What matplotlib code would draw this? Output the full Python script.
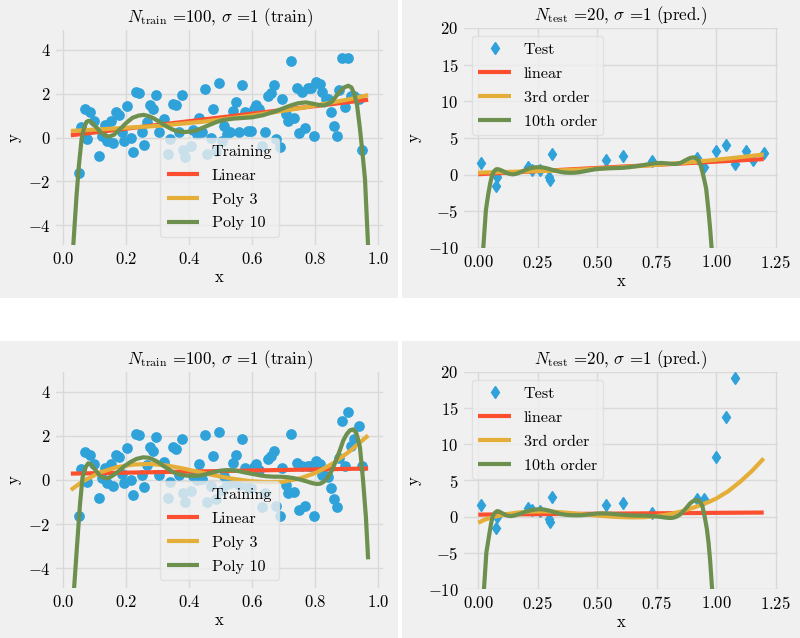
import numpy as np
import matplotlib.pyplot as plt
from matplotlib.patches import Rectangle

# training inputs (same x in both rows)
train_x = [0.050, 0.056, 0.069, 0.085, 0.076, 0.096, 0.113, 0.122, 0.132, 0.140,
           0.150, 0.159, 0.166, 0.178, 0.186, 0.194, 0.203, 0.215, 0.222, 0.230,
           0.241, 0.249, 0.257, 0.267, 0.275, 0.284, 0.294, 0.305, 0.321, 0.331,
           0.340, 0.348, 0.358, 0.367, 0.376, 0.381, 0.386, 0.405, 0.413, 0.423,
           0.432, 0.441, 0.450, 0.457, 0.468, 0.476, 0.485, 0.494, 0.503, 0.511,
           0.521, 0.529, 0.540, 0.548, 0.558, 0.568, 0.577, 0.585, 0.596, 0.605,
           0.612, 0.622, 0.632, 0.640, 0.649, 0.658, 0.669, 0.677, 0.688, 0.695,
           0.706, 0.714, 0.723, 0.732, 0.741, 0.749, 0.759, 0.767, 0.778, 0.788,
           0.796, 0.804, 0.815, 0.823, 0.833, 0.841, 0.850, 0.859, 0.868, 0.876,
           0.884, 0.896, 0.905, 0.912, 0.924, 0.939, 0.950]
train_y_top = [-1.64, 0.48, 1.32, 1.17, -0.08, 0.73, -0.83, 0.08, 0.56, -0.15,
               0.76, -0.26, 1.17, 1.03, 0.24, -0.15, 1.44, 0.00, -0.65, 2.09,
               2.02, 0.26, -0.33, 0.71, 1.50, 1.29, 1.94, 0.27, 0.86, -0.76,
               -0.05, 1.52, 1.47, 0.26, 1.94, -0.56, -0.91, -0.41, 0.33, 0.18,
               0.91, 0.23, 2.20, -0.77, -0.03, 1.32, -0.60, 2.47, -0.18, 0.53,
               0.15, 0.23, 1.21, 1.64, 0.27, 2.39, 1.14, 0.30, 0.30, 1.29,
               1.47, 1.29, -0.38, 0.26, 1.89, 2.05, 2.38, -0.05, -0.42, 1.77,
               1.06, 0.74, 3.48, 0.91, 2.24, 0.20, 2.08, 0.45, 2.27, 2.27,
               0.05, 2.53, 2.42, 2.08, 1.77, 1.74, 1.14, 0.53, 0.05, 2.15,
               3.64, 1.41, 3.64, 1.89, 1.89, 1.74, -0.58]
train_y_bot = [-1.65, 0.50, 1.29, 1.15, -0.10, 0.73, -0.83, 0.08, 0.55, -0.15,
               0.73, -0.26, 1.15, 1.03, 0.27, -0.15, 1.46, 0.00, -0.67, 2.09,
               2.02, 0.24, -0.30, 0.70, 1.49, 1.30, 1.94, 0.24, 0.83, -0.82,
               -0.10, 1.49, 1.41, 0.24, 1.87, -0.59, -1.02, -0.52, 0.20, 0.02,
               0.73, 0.05, 2.02, -1.02, -0.26, 1.08, -0.88, 2.17, -0.45, 0.20,
               -0.20, -0.15, 0.76, 1.15, -0.23, 1.84, 0.55, -0.31, -0.35, 0.58,
               0.73, 0.45, -1.22, -0.60, 0.96, 1.08, 1.30, -1.17, -1.65, 0.55,
               -0.21, -0.60, 2.09, -0.56, 0.76, -1.35, 0.62, -1.17, 0.65, 0.65,
               -1.65, 0.85, 0.73, 0.24, 0.17, 0.12, -0.36, -0.86, -1.24, 0.99,
               2.67, 0.65, 3.08, 1.56, 1.87, 2.47, 0.65]

# test points
test_x = [0.011, 0.074, 0.077, 0.210, 0.224, 0.259, 0.298, 0.302, 0.312, 0.536,
          0.609, 0.731, 0.921, 0.949, 1.001, 1.040, 1.081, 1.127, 1.155, 1.200]
test_y_top = [1.53, -1.53, -0.30, 1.07, 0.62, 0.62, -0.30, -0.70, 2.76, 1.98,
              2.57, 1.89, 2.30, 1.07, 3.20, 4.03, 1.40, 3.26, 1.98, 3.00]
test_y_bot = [1.60, -1.52, -0.10, 1.24, 0.88, 0.80, -0.36, -0.69, 2.76, 1.60,
              1.84, 0.55, 2.40, 2.40, 8.28, 13.75, 19.20, 25.0, 28.5, 33.0]

# fitted models
fit_span = (0.024, 0.968)   # range of the training inputs

lin_x = [0.0, 0.024, 0.968, 1.2]
lin_y_top = [0.06, 0.10, 1.72, 2.12]
lin_y_bot = [0.27, 0.29, 0.52, 0.57]

cub_x_top = [0.0, 0.024, 0.15, 0.30, 0.45, 0.60, 0.75, 0.90, 0.968, 1.05, 1.2]
cub_y_top = [0.28, 0.30, 0.40, 0.53, 0.73, 1.00, 1.33, 1.72, 1.93, 2.20, 2.75]

cub_x_bot = [0.0, 0.024, 0.063, 0.116, 0.169, 0.222, 0.275, 0.328, 0.381, 0.434,
             0.487, 0.540, 0.592, 0.645, 0.698, 0.751, 0.803, 0.856, 0.909, 0.968,
             1.0, 1.05, 1.10, 1.15, 1.2]
cub_y_bot = [-0.85, -0.45, -0.05, 0.34, 0.58, 0.70, 0.73, 0.66, 0.52, 0.35,
             0.19, 0.05, -0.05, -0.10, -0.08, 0.07, 0.33, 0.75, 1.30, 2.02,
             2.50, 3.50, 4.80, 6.30, 8.05]

p10_x_top = [0.010, 0.021, 0.024, 0.032, 0.042, 0.050, 0.058, 0.066, 0.074, 0.081,
             0.090, 0.106, 0.120, 0.132, 0.145, 0.160, 0.180, 0.201, 0.220, 0.240,
             0.255, 0.270, 0.286, 0.300, 0.317, 0.335, 0.349, 0.365, 0.385, 0.407,
             0.425, 0.444, 0.465, 0.487, 0.510, 0.540, 0.570, 0.600, 0.635, 0.677,
             0.720, 0.745, 0.770, 0.794, 0.812, 0.830, 0.852, 0.870, 0.890, 0.905,
             0.915, 0.925, 0.933, 0.942, 0.950, 0.958, 0.968, 0.975, 0.982, 0.990]
p10_y_top = [-18.0, -10.0, -8.6, -4.85, -2.65, -1.20, -0.08, 0.45, 0.72, 0.76,
             0.68, 0.45, 0.22, 0.10, 0.04, 0.12, 0.38, 0.68, 0.90, 1.00,
             1.03, 0.98, 0.88, 0.76, 0.60, 0.45, 0.35, 0.28, 0.25, 0.27,
             0.34, 0.45, 0.58, 0.71, 0.80, 0.86, 0.89, 0.92, 1.02, 1.21,
             1.45, 1.56, 1.60, 1.54, 1.48, 1.46, 1.62, 1.95, 2.27, 2.36,
             2.28, 1.95, 1.45, 0.40, -0.70, -1.90, -5.00, -7.50, -10.5, -15.0]

p10_x_bot = [0.010, 0.024, 0.034, 0.044, 0.053, 0.061, 0.071, 0.079, 0.087, 0.095,
             0.105, 0.116, 0.128, 0.138, 0.150, 0.164, 0.180, 0.196, 0.215, 0.233,
             0.254, 0.270, 0.280, 0.300, 0.317, 0.333, 0.349, 0.370, 0.392, 0.415,
             0.434, 0.455, 0.476, 0.497, 0.519, 0.540, 0.561, 0.580, 0.603, 0.625,
             0.645, 0.668, 0.688, 0.710, 0.730, 0.752, 0.772, 0.790, 0.804, 0.815,
             0.825, 0.836, 0.847, 0.858, 0.868, 0.879, 0.889, 0.900, 0.910, 0.920,
             0.930, 0.942, 0.952, 0.961, 0.968, 0.975, 0.983, 0.990]
p10_y_bot = [-20.0, -10.0, -4.96, -2.90, -1.10, 0.12, 0.58, 0.76, 0.72, 0.58,
             0.40, 0.20, 0.10, 0.08, 0.14, 0.27, 0.45, 0.65, 0.83, 0.96,
             1.03, 1.01, 0.96, 0.82, 0.65, 0.50, 0.35, 0.25, 0.20, 0.19,
             0.20, 0.27, 0.35, 0.42, 0.45, 0.44, 0.39, 0.33, 0.27, 0.21,
             0.17, 0.15, 0.15, 0.13, 0.09, 0.02, -0.06, -0.14, -0.18, -0.17,
             -0.10, 0.05, 0.27, 0.60, 0.96, 1.38, 1.79, 2.08, 2.25, 2.30,
             2.15, 1.49, -0.03, -1.70, -3.60, -6.20, -10.0, -14.0]

train_title = r"$N_{\mathrm{train}}$ =100, $\sigma$ =1 (train)"
test_title = r"$N_{\mathrm{test}}$ =20, $\sigma$ =1 (pred.)"

BG = "#f0f0f0"
BLUE = "#30a2da"
RED = "#fc4f30"
YEL = "#e5ae38"
GRN = "#6d904f"

plt.rcParams["font.family"] = "cmr10"
plt.rcParams["mathtext.fontset"] = "cm"
plt.rcParams["axes.formatter.use_mathtext"] = True

W, H = 800, 638


def px_rect(x0, y0, x1, y1):
    # pixel box with top-left origin -> [left, bottom, width, height] in figure fraction
    return [x0 / W, 1 - y1 / H, (x1 - x0) / W, (y1 - y0) / H]


def style(ax, xlim, ylim, xticks, yticks, title):
    ax.set_facecolor(BG)
    ax.set_xlim(*xlim)
    ax.set_ylim(*ylim)
    ax.set_xticks(xticks)
    ax.set_yticks(yticks)
    ax.grid(True, color="#d9d9d9", lw=1.0)
    ax.set_axisbelow(True)
    for s in ax.spines.values():
        s.set_visible(False)
    ax.tick_params(length=0, labelsize=12, pad=4)
    ax.set_title(title, fontsize=12.2, pad=6)
    ax.set_xlabel("x", fontsize=12, labelpad=2)
    ax.set_ylabel("y", fontsize=12, labelpad=4)


def legend(ax, loc):
    return ax.legend(loc=loc, fontsize=11.6, labelspacing=0.6, framealpha=0.8,
                     facecolor=BG, edgecolor="#dddddd", fancybox=True)


def draw_train(ax, ty, ly, cx, cy, px, py):
    lo, hi = fit_span
    ax.scatter(train_x, ty, s=45, color=BLUE, zorder=2, label="Training")
    for xs, ys, c, lab in [(lin_x, ly, RED, "Linear"), (cx, cy, YEL, "Poly 3"),
                           (px, py, GRN, "Poly 10")]:
        xs, ys = np.asarray(xs), np.asarray(ys)
        m = (xs >= lo) & (xs <= hi)
        ax.plot(xs[m], ys[m], color=c, lw=3, solid_capstyle="butt", label=lab, zorder=3)
    style(ax, (-0.0232, 1.0152), (-4.9, 4.9), [0, 0.2, 0.4, 0.6, 0.8, 1.0],
          [-4, -2, 0, 2, 4], train_title)
    leg = legend(ax, "lower center")
    leg.legend_handles[0].set_visible(False)


def draw_test(ax, ty, ly, cx, cy, px, py):
    ax.plot(test_x, ty, "d", ms=6.5, color=BLUE, label="Test", zorder=2)
    ax.plot(lin_x, ly, color=RED, lw=3, solid_capstyle="butt", label="linear", zorder=3)
    ax.plot(cx, cy, color=YEL, lw=3, solid_capstyle="butt", label="3rd order", zorder=3)
    ax.plot(px, py, color=GRN, lw=3, solid_capstyle="butt", label="10th order", zorder=3)
    style(ax, (-0.06, 1.26), (-10, 20), [0, 0.25, 0.5, 0.75, 1.0, 1.25],
          [-10, -5, 0, 5, 10, 15, 20], test_title)
    legend(ax, "upper left")


fig = plt.figure(figsize=(W / 100, H / 100), dpi=100, facecolor="white")

for box in [(0, 0, 398, 298), (402, 0, 800, 298), (0, 341, 398, 638), (402, 341, 800, 638)]:
    l, b, w, h = px_rect(*box)
    fig.add_artist(Rectangle((l, b), w, h, transform=fig.transFigure,
                             facecolor=BG, edgecolor="none", zorder=-10))

ax_tl = fig.add_axes(px_rect(56, 30, 383, 245))
ax_tr = fig.add_axes(px_rect(464, 28, 778, 248))
ax_bl = fig.add_axes(px_rect(56, 372, 383, 588))
ax_br = fig.add_axes(px_rect(464, 372, 778, 589))

draw_train(ax_tl, train_y_top, lin_y_top, cub_x_top, cub_y_top, p10_x_top, p10_y_top)
draw_test(ax_tr, test_y_top, lin_y_top, cub_x_top, cub_y_top, p10_x_top, p10_y_top)
draw_train(ax_bl, train_y_bot, lin_y_bot, cub_x_bot, cub_y_bot, p10_x_bot, p10_y_bot)
draw_test(ax_br, test_y_bot, lin_y_bot, cub_x_bot, cub_y_bot, p10_x_bot, p10_y_bot)

fig.savefig("out.png", dpi=100, facecolor="white")
